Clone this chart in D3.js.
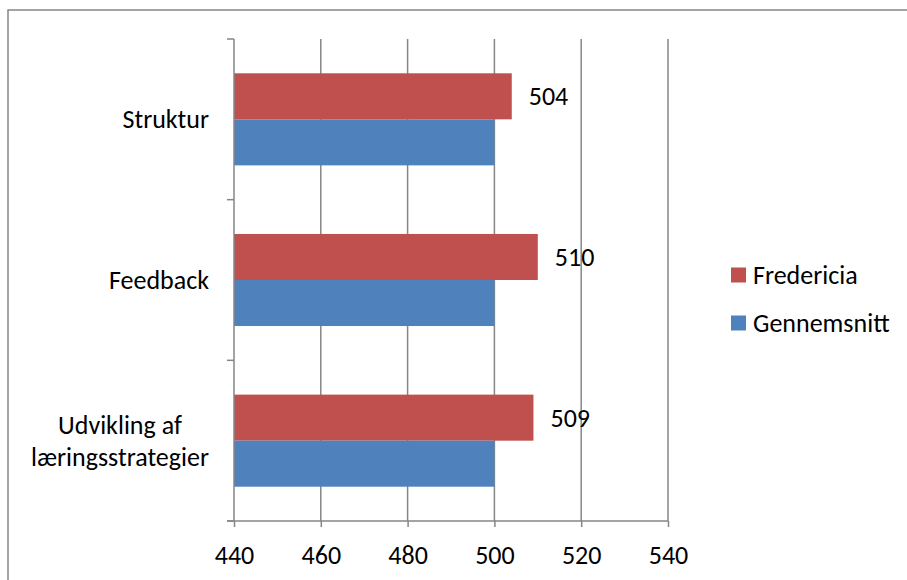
<!DOCTYPE html>
<html>
<head>
<meta charset="utf-8">
<script src="https://cdn.jsdelivr.net/npm/d3@7"></script>
<style>
  html, body { margin: 0; padding: 0; background: #fff; }
  svg { display: block; }
  text { font-family: Carlito, Calibri, Lato, "Open Sans", sans-serif; fill: #000; }
</style>
</head>
<body>
<svg id="chart" width="907" height="580"></svg>
<script>
// Categories (top to bottom) and the two series
const categories = ["Struktur", "Feedback", "Udvikling af\nlæringsstrategier"];
const seriesNames = ["Fredericia", "Gennemsnitt"];
const fredericia = [504, 510, 509];
const gennemsnitt = [500, 500, 500];
const xTicks = [440, 460, 480, 500, 520, 540];

const colors = { Fredericia: "#C0504D", Gennemsnitt: "#4F81BD" };
const gridColor = "#868686";
const fontSize = 26;

const svg = d3.select("#chart");

// Outer chart frame
svg.append("rect")
  .attr("x", 8).attr("y", 10)
  .attr("width", 940).attr("height", 620)
  .attr("fill", "none")
  .attr("stroke", gridColor)
  .attr("stroke-width", 1.5);

const plot = { left: 234, right: 668, top: 39, bottom: 521 };

const x = d3.scaleLinear()
  .domain([440, 540])
  .range([plot.left, plot.right]);

const y = d3.scaleBand()
  .domain(categories)
  .range([plot.top, plot.bottom])
  .paddingInner(0)
  .paddingOuter(0);

const ySeries = d3.scaleBand()
  .domain(seriesNames)
  .range([0, y.bandwidth()])
  .paddingInner(0)
  .paddingOuter(0.745);

const rows = categories.map((c, i) => ({
  category: c,
  values: [
    { name: "Fredericia", value: fredericia[i] },
    { name: "Gennemsnitt", value: gennemsnitt[i] }
  ]
}));

// Vertical gridlines
svg.append("g")
  .selectAll("line")
  .data(xTicks.filter(t => t !== 440))
  .join("line")
  .attr("x1", d => x(d)).attr("x2", d => x(d))
  .attr("y1", plot.top).attr("y2", plot.bottom)
  .attr("stroke", gridColor)
  .attr("stroke-width", 1.5);

// Bars
const groups = svg.append("g")
  .selectAll("g")
  .data(rows)
  .join("g")
  .attr("transform", d => `translate(0,${y(d.category)})`);

groups.selectAll("rect")
  .data(d => d.values)
  .join("rect")
  .attr("x", x(440))
  .attr("y", d => ySeries(d.name))
  .attr("width", d => x(d.value) - x(440))
  .attr("height", ySeries.bandwidth())
  .attr("fill", d => colors[d.name]);

// Value labels on the Fredericia bars
groups.append("text")
  .attr("x", d => x(d.values[0].value) + 17)
  .attr("y", ySeries("Fredericia") + ySeries.bandwidth() / 2)
  .attr("dominant-baseline", "central")
  .attr("font-size", fontSize)
  .text(d => d.values[0].value);

// Value axis (bottom)
const xAxis = d3.axisBottom(x)
  .tickValues(xTicks)
  .tickSize(6)
  .tickFormat(d3.format("d"));

const gx = svg.append("g")
  .attr("transform", `translate(0,${plot.bottom})`)
  .call(xAxis);
gx.select(".domain").remove();
gx.selectAll("line").attr("stroke", gridColor).attr("stroke-width", 1.5);
gx.selectAll("text")
  .attr("y", 34)
  .attr("dy", null)
  .attr("dominant-baseline", "central")
  .attr("font-size", fontSize)
  .attr("font-family", "Carlito, Calibri, Lato, 'Open Sans', sans-serif")
  .attr("fill", "#000");
gx.append("line")
  .attr("x1", plot.left - 7).attr("x2", plot.right)
  .attr("y1", 0).attr("y2", 0)
  .attr("stroke", gridColor).attr("stroke-width", 1.5);

// Category axis (left): line plus boundary ticks
const boundaries = categories.map(c => y(c)).concat([plot.bottom]);
svg.append("line")
  .attr("x1", plot.left).attr("x2", plot.left)
  .attr("y1", plot.top).attr("y2", plot.bottom)
  .attr("stroke", gridColor).attr("stroke-width", 1.5);
svg.append("g")
  .selectAll("line")
  .data(boundaries)
  .join("line")
  .attr("x1", plot.left - 7).attr("x2", plot.left)
  .attr("y1", d => d).attr("y2", d => d)
  .attr("stroke", gridColor).attr("stroke-width", 1.5);

// Category labels: lines centred within a block right-aligned at the axis
const labelRight = 209;
const lineHeight = 32;
categories.forEach(c => {
  const lines = c.split("\n");
  const cy = y(c) + y.bandwidth() / 2;
  const g = svg.append("g");
  const texts = lines.map((ln, i) => g.append("text")
    .attr("y", cy + (i - (lines.length - 1) / 2) * lineHeight)
    .attr("dominant-baseline", "central")
    .attr("text-anchor", "middle")
    .attr("font-size", fontSize)
    .text(ln));
  const maxW = d3.max(texts, t => t.node().getComputedTextLength());
  texts.forEach(t => t.attr("x", labelRight - maxW / 2));
});

// Legend
const legend = svg.append("g").attr("transform", "translate(731,0)");
const legendY = [275, 323];
seriesNames.forEach((name, i) => {
  legend.append("rect")
    .attr("x", 0).attr("y", legendY[i] - 7.5)
    .attr("width", 15).attr("height", 15)
    .attr("fill", colors[name]);
  legend.append("text")
    .attr("x", 22).attr("y", legendY[i])
    .attr("dominant-baseline", "central")
    .attr("font-size", fontSize)
    .text(name);
});
</script>
</body>
</html>
